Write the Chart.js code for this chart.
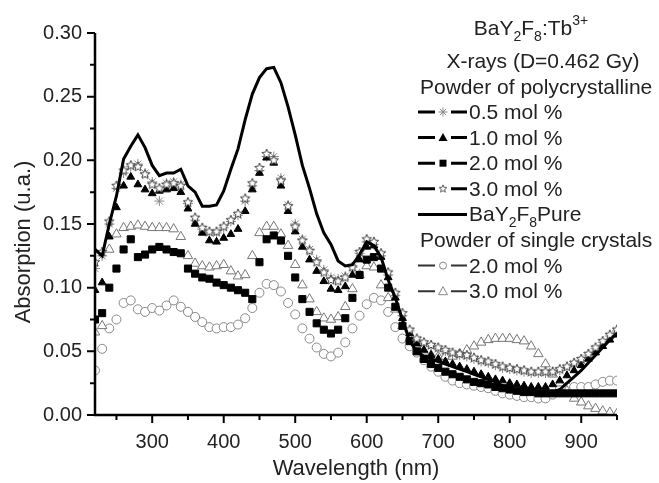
<!DOCTYPE html>
<html>
<head>
<meta charset="utf-8">
<script src="https://cdn.jsdelivr.net/npm/chart.js@4.4.1/dist/chart.umd.min.js"></script>
<style>
  html, body { margin: 0; padding: 0; background: #fff; }
  #wrap { width: 659px; height: 483px; }
</style>
</head>
<body>
<div id="wrap"><canvas id="absChart" width="659" height="483"></canvas></div>
<script>
// wavelength grid (nm) shared by all series
const wavelengths = [
  220, 230, 240, 250, 260, 270, 280, 290, 300, 310,
  320, 330, 340, 350, 360, 370, 380, 390, 400, 410,
  420, 430, 440, 450, 460, 470, 480, 490, 500, 510,
  520, 530, 540, 550, 560, 570, 580, 590, 600, 610,
  620, 630, 640, 650, 660, 670, 680, 690, 700, 710,
  720, 730, 740, 750, 760, 770, 780, 790, 800, 810,
  820, 830, 840, 850, 860, 870, 880, 890, 900, 910,
  920, 930, 940, 950
];

// BaY2F8 pure (solid line)
const pure = [
  .130, .125, .150, .172, .201, .211, .220, .210, .196, .188,
  .190, .190, .193, .180, .175, .164, .164, .165, .176, .193,
  .209, .232, .252, .265, .272, .273, .261, .242, .220, .196,
  .178, .158, .143, .134, .121, .117, .118, .126, .136, .133,
  .124, .106, .092, .075, .058, .050, .046, .044, .042, .040,
  .038, .036, .034, .032, .030, .028, .026, .023, .021, .019,
  .018, .017, .017, .017, .018, .020, .025, .030, .035, .041,
  .047, .053, .059, .064
];

// polycrystalline powder, 0.5 mol % (asterisks)
const poly05 = [
  .115, .125, .150, .178, .190, .195, .197, .190, .183, .168,
  .182, .183, .181, .166, .153, .146, .143, .143, .147, .152,
  .157, .168, .180, .192, .203, .203, .186, .165, .150, .138,
  .130, .122, .114, .108, .107, .109, .116, .127, .136, .134,
  .125, .110, .094, .078, .066, .059, .056, .054, .052, .050,
  .048, .047, .046, .044, .042, .041, .039, .037, .036, .035,
  .034, .033, .033, .033, .034, .035, .037, .040, .043, .047,
  .052, .057, .062, .066
];

// polycrystalline powder, 1.0 mol % (filled triangles)
const poly10 = [
  .098, .104, .140, .163, .180, .187, .181, .177, .174, .176,
  .177, .178, .175, .162, .150, .143, .137, .136, .139, .142,
  .146, .160, .177, .190, .202, .198, .180, .160, .144, .132,
  .122, .113, .105, .099, .098, .101, .110, .122, .132, .133,
  .124, .108, .092, .076, .064, .056, .051, .047, .044, .042,
  .040, .038, .036, .034, .032, .030, .028, .027, .025, .024,
  .023, .022, .022, .022, .024, .027, .031, .035, .039, .044,
  .049, .054, .059, .063
];

// polycrystalline powder, 2.0 mol % (filled squares)
const poly20 = [
  .075, .080, .100, .115, .130, .138, .124, .126, .130, .132,
  .130, .128, .127, .115, .111, .108, .107, .104, .102, .100,
  .098, .096, .091, .120, .138, .141, .137, .125, .108, .091,
  .081, .072, .067, .064, .067, .076, .092, .110, .122, .124,
  .115, .100, .085, .070, .058, .050, .044, .040, .037, .034,
  .032, .030, .028, .026, .025, .024, .022, .021, .020, .019,
  .018, .018, .017, .017, .017, .017, .017, .017, .017, .017,
  .017, .017, .017, .017
];

// polycrystalline powder, 3.0 mol % (open stars)
const poly30 = [
  .120, .128, .152, .180, .192, .196, .195, .189, .181, .178,
  .181, .182, .180, .167, .155, .147, .144, .144, .148, .153,
  .158, .170, .182, .194, .205, .200, .184, .164, .148, .137,
  .129, .120, .112, .106, .105, .108, .116, .128, .138, .136,
  .127, .112, .096, .080, .067, .060, .057, .055, .053, .051,
  .049, .048, .047, .045, .043, .042, .040, .038, .037, .036,
  .035, .034, .034, .034, .034, .036, .038, .041, .044, .048,
  .053, .058, .063, .067
];

// single crystal powder, 2.0 mol % (open circles)
const single20 = [
  .035, .052, .068, .075, .088, .090, .083, .081, .084, .082,
  .086, .090, .085, .081, .077, .073, .069, .068, .069, .069,
  .071, .076, .084, .096, .103, .102, .097, .088, .079, .068,
  .060, .053, .048, .046, .049, .057, .068, .078, .087, .092,
  .090, .081, .069, .060, .054, .049, .043, .038, .034, .030,
  .027, .025, .024, .023, .022, .021, .019, .017, .016, .015,
  .014, .014, .013, .013, .016, .020, .022, .022, .022, .022,
  .024, .026, .027, .027
];

// single crystal powder, 3.0 mol % (open triangles)
const single30 = [
  .065, .070, .130, .142, .147, .148, .149, .148, .147, .147,
  .147, .146, .140, .125, .119, .117, .116, .117, .118, .113,
  .109, .110, .125, .143, .148, .148, .142, .133, .118, .102,
  .091, .081, .076, .075, .077, .085, .099, .110, .117, .116,
  .102, .092, .083, .070, .060, .054, .050, .047, .046, .046,
  .046, .048, .051, .054, .057, .059, .060, .060, .060, .059,
  .058, .054, .048, .040, .032, .025, .019, .013, .010, .007,
  .005, .003, .002, .001
];

// axis ticks
const xTicks = [300, 400, 500, 600, 700, 800, 900];
const xMinor = [250, 350, 450, 550, 650, 750, 850, 950];
const yTicks = [0, 0.05, 0.10, 0.15, 0.20, 0.25, 0.30];
const yMinor = [0.025, 0.075, 0.125, 0.175, 0.225, 0.275];

const FONT = 'Arial, "Liberation Sans", sans-serif';

function toPoints(values) {
  return wavelengths.map((w, i) => ({ x: w, y: values[i] }));
}

// open 5-point star used as a point style
function starImage(size, stroke) {
  const c = document.createElement('canvas');
  c.width = c.height = size;
  const g = c.getContext('2d');
  const cx = size / 2, cy = size / 2, r = size / 2 - 1, ri = r * 0.45;
  g.beginPath();
  for (let k = 0; k < 10; k++) {
    const ang = -Math.PI / 2 + k * Math.PI / 5;
    const rr = k % 2 ? ri : r;
    g.lineTo(cx + rr * Math.cos(ang), cy + rr * Math.sin(ang));
  }
  g.closePath();
  g.fillStyle = '#fff';
  g.fill();
  g.strokeStyle = stroke;
  g.lineWidth = 1;
  g.stroke();
  return c;
}
const openStar = starImage(12, '#444');
const legendStar = starImage(10, '#555');

const markerBase = { showLine: false, borderWidth: 1 };

const datasets = [
  { ...markerBase, label: 'BaY2F8Pure', data: toPoints(pure), showLine: true, pointRadius: 0,
    borderColor: '#000', borderWidth: 3, order: 0 },
  { ...markerBase, label: '1.0 mol %', data: toPoints(poly10), pointStyle: 'triangle', pointRadius: 4.5,
    backgroundColor: '#000', borderColor: '#000', order: 2 },
  { ...markerBase, label: '0.5 mol %', data: toPoints(poly05), pointStyle: 'star', pointRadius: 5,
    backgroundColor: '#888', borderColor: '#888', order: 3 },
  { ...markerBase, label: '3.0 mol %', data: toPoints(poly30), pointStyle: openStar, order: 1 },
  { ...markerBase, label: '2.0 mol %', data: toPoints(poly20), pointStyle: 'rect', pointRadius: 5,
    backgroundColor: '#000', borderColor: '#000', order: 4 },
  { ...markerBase, label: '3.0 mol % (single)', data: toPoints(single30), pointStyle: 'triangle', pointRadius: 5.5,
    backgroundColor: '#fff', borderColor: '#777', order: 5 },
  { ...markerBase, label: '2.0 mol % (single)', data: toPoints(single20), pointStyle: 'circle', pointRadius: 4.5,
    backgroundColor: '#fff', borderColor: '#888', order: 6 }
];

// axis lines with outward major and minor ticks
const axisFrame = {
  id: 'axisFrame',
  afterDraw(chart) {
    const ctx = chart.ctx, a = chart.chartArea;
    const sx = chart.scales.x, sy = chart.scales.y;
    ctx.save();
    ctx.strokeStyle = '#000';
    ctx.lineWidth = 2.5;
    ctx.beginPath();
    ctx.moveTo(a.left, a.top);
    ctx.lineTo(a.left, a.bottom);
    ctx.lineTo(a.right, a.bottom);
    ctx.stroke();
    ctx.lineWidth = 2;
    ctx.beginPath();
    yTicks.forEach(v => { const p = sy.getPixelForValue(v); ctx.moveTo(a.left, p); ctx.lineTo(a.left - 8, p); });
    yMinor.forEach(v => { const p = sy.getPixelForValue(v); ctx.moveTo(a.left, p); ctx.lineTo(a.left - 5, p); });
    xTicks.forEach(v => { const p = sx.getPixelForValue(v); ctx.moveTo(p, a.bottom); ctx.lineTo(p, a.bottom + 8); });
    xMinor.forEach(v => { const p = sx.getPixelForValue(v); ctx.moveTo(p, a.bottom); ctx.lineTo(p, a.bottom + 5); });
    ctx.stroke();

    // axis titles
    ctx.fillStyle = '#222';
    ctx.font = '22px ' + FONT;
    ctx.textAlign = 'center';
    ctx.textBaseline = 'middle';
    ctx.fillText('Wavelength (nm)', (a.left + a.right) / 2, 469);
    ctx.translate(24, 242);
    ctx.rotate(-Math.PI / 2);
    ctx.fillText('Absorption (u.a.)', 0, 0);
    ctx.restore();
  }
};

// text with sub/superscript pieces: [text, 'n' | 'sub' | 'sup']
function drawRich(ctx, parts, x, y, align) {
  const fontFor = k => (k === 'n' ? '21px ' : '14px ') + FONT;
  const widths = parts.map(p => { ctx.font = fontFor(p[1]); return ctx.measureText(p[0]).width; });
  const total = widths.reduce((s, w) => s + w, 0);
  let cx = align === 'center' ? x - total / 2 : x;
  ctx.textAlign = 'left';
  ctx.textBaseline = 'alphabetic';
  parts.forEach((p, i) => {
    ctx.font = fontFor(p[1]);
    const dy = p[1] === 'sub' ? 6 : p[1] === 'sup' ? -10 : 0;
    ctx.fillText(p[0], cx, y + dy);
    cx += widths[i];
  });
}

function drawMarker(ctx, kind, x, y) {
  ctx.save();
  ctx.lineWidth = 1;
  if (kind === 'asterisk') {
    ctx.strokeStyle = '#888';
    ctx.beginPath();
    for (let k = 0; k < 4; k++) {
      const ang = k * Math.PI / 4, r = 4.5;
      ctx.moveTo(x - r * Math.cos(ang), y - r * Math.sin(ang));
      ctx.lineTo(x + r * Math.cos(ang), y + r * Math.sin(ang));
    }
    ctx.stroke();
  } else if (kind === 'triFill' || kind === 'triOpen') {
    ctx.beginPath();
    ctx.moveTo(x, y - 4.5); ctx.lineTo(x + 4.5, y + 3.5); ctx.lineTo(x - 4.5, y + 3.5); ctx.closePath();
    if (kind === 'triFill') { ctx.fillStyle = '#000'; ctx.fill(); }
    else { ctx.fillStyle = '#fff'; ctx.fill(); ctx.strokeStyle = '#888'; ctx.stroke(); }
  } else if (kind === 'square') {
    ctx.fillStyle = '#000';
    ctx.fillRect(x - 3.5, y - 3.5, 7, 7);
  } else if (kind === 'star') {
    ctx.drawImage(legendStar, x - 5, y - 5);
  } else if (kind === 'circle') {
    ctx.beginPath(); ctx.arc(x, y, 3.5, 0, Math.PI * 2);
    ctx.fillStyle = '#fff'; ctx.fill(); ctx.strokeStyle = '#888'; ctx.stroke();
  }
  ctx.restore();
}

const legendRows = [
  { text: '0.5 mol %', kind: 'asterisk', lw: 3 },
  { text: '1.0 mol %', kind: 'triFill', lw: 3 },
  { text: '2.0 mol %', kind: 'square', lw: 3 },
  { text: '3.0 mol %', kind: 'star', lw: 3 },
  { text: null, kind: 'line', lw: 3 },
  { text: null, kind: 'header' },
  { text: '2.0 mol %', kind: 'circle', lw: 2 },
  { text: '3.0 mol %', kind: 'triOpen', lw: 2 }
];

const legendBox = {
  id: 'legendBox',
  afterDraw(chart) {
    const ctx = chart.ctx;
    ctx.save();
    ctx.fillStyle = '#222';
    drawRich(ctx, [['BaY', 'n'], ['2', 'sub'], ['F', 'n'], ['8', 'sub'], [':Tb', 'n'], ['3+', 'sup']], 531, 35, 'center');
    drawRich(ctx, [['X-rays (D=0.462 Gy)', 'n']], 543, 68, 'center');
    drawRich(ctx, [['Powder of polycrystalline', 'n']], 420, 94, 'left');
    legendRows.forEach((row, k) => {
      const cy = 112 + 25.6 * k;
      const base = cy + 7;
      if (row.kind === 'header') {
        drawRich(ctx, [['Powder of single crystals', 'n']], 420, base, 'left');
        return;
      }
      ctx.strokeStyle = row.lw === 2 ? '#333' : '#000';
      ctx.lineWidth = row.lw;
      ctx.beginPath();
      if (row.kind === 'line') {
        ctx.moveTo(418, cy); ctx.lineTo(467, cy);
      } else {
        ctx.moveTo(418, cy); ctx.lineTo(435, cy);
        ctx.moveTo(451, cy); ctx.lineTo(467, cy);
      }
      ctx.stroke();
      if (row.kind !== 'line') drawMarker(ctx, row.kind, 443, cy);
      ctx.fillStyle = '#222';
      if (row.text) drawRich(ctx, [[row.text, 'n']], 469, base, 'left');
      else drawRich(ctx, [['BaY', 'n'], ['2', 'sub'], ['F', 'n'], ['8', 'sub'], ['Pure', 'n']], 469, base, 'left');
    });
    ctx.restore();
  }
};

new Chart(document.getElementById('absChart').getContext('2d'), {
  type: 'scatter',
  data: { datasets: datasets },
  options: {
    responsive: false,
    animation: false,
    layout: { padding: { left: 0, top: 33, right: 42, bottom: 0 } },
    plugins: {
      legend: { display: false },
      tooltip: { enabled: false }
    },
    scales: {
      x: {
        type: 'linear',
        min: 220,
        max: 950,
        grid: { display: false, drawTicks: false },
        border: { display: false },
        afterBuildTicks: s => { s.ticks = xTicks.map(v => ({ value: v })); },
        afterFit: s => { s.height = 68; },
        ticks: { color: '#222', font: { family: FONT, size: 20 }, padding: 15, maxRotation: 0, autoSkip: false }
      },
      y: {
        type: 'linear',
        min: 0,
        max: 0.30,
        grid: { display: false, drawTicks: false },
        border: { display: false },
        afterBuildTicks: s => { s.ticks = yTicks.map(v => ({ value: v })); },
        afterFit: s => { s.width = 95; },
        ticks: { color: '#222', font: { family: FONT, size: 20 }, padding: 13, callback: v => v.toFixed(2) }
      }
    }
  },
  plugins: [axisFrame, legendBox]
});
</script>
</body>
</html>
